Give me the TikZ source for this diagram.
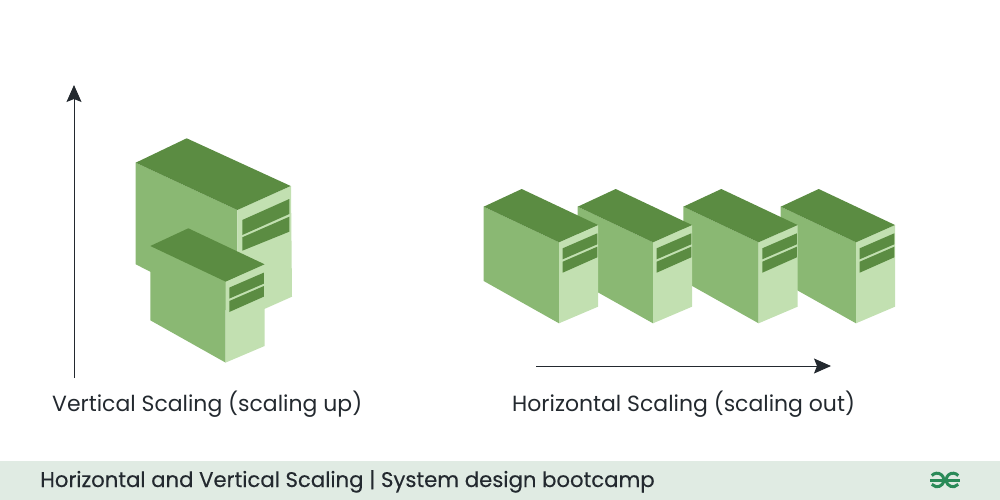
\documentclass[tikz,border=0pt]{standalone}
\usepackage{fontspec}
\setmainfont{Poppins}
\newfontfamily\barfont[FakeBold=0.25]{Poppins}
\usetikzlibrary{arrows.meta}
\definecolor{servertop}{HTML}{5B8C42}
\definecolor{serverleft}{HTML}{8AB873}
\definecolor{serverright}{HTML}{C2E0B1}
\definecolor{barfill}{HTML}{E0EBE3}
\definecolor{inkdark}{HTML}{23292F}
\definecolor{logogreen}{HTML}{2A8A58}
\tikzstyle{topface} =[fill=servertop]
\tikzstyle{leftface} =[fill=serverleft]
\tikzstyle{rightface} =[fill=serverright]
\tikzstyle{scalearrow} =[draw=inkdark, line width=1pt, -{Stealth[length=17pt,width=15pt,inset=3pt]}]
\tikzstyle{caption} =[text=inkdark, font=\fontsize{21.95}{26}\selectfont, anchor=base west, inner sep=0pt]
\tikzstyle{bartitle} =[text=inkdark, font=\barfont\fontsize{21.2}{25}\selectfont, anchor=base west, inner sep=0pt]
\tikzstyle{logoline} =[draw=logogreen, line width=3pt]
\newcommand{\serverbox}[2]{%
	\begin{scope}[shift={(#1,#2)}]
		\fill[leftface] (483.7,206.7) -- (559,242.3) -- (559,323.3) -- (483.7,281) -- cycle;
		\fill[rightface] (559,242.3) -- (598,225) -- (598,306.7) -- (559,323.3) -- cycle;
		\fill[topface] (483.7,206.7) -- (521.7,189) -- (598,225) -- (559,242.3) -- cycle;
		\fill[topface] (562.7,248.3) -- (597.3,233.3) -- (597.3,244.3) -- (562.7,259.3) -- cycle;
		\fill[topface] (562.7,261.7) -- (597.3,246.7) -- (597.3,257.3) -- (562.7,272.7) -- cycle;
	\end{scope}
}
\begin{document}
\begin{tikzpicture}[x=1pt,y=-1pt]
	\useasboundingbox (0,0) rectangle (1000,500);
	% big server
	\fill[leftface] (135.7,162.7) -- (237.3,210) -- (237.3,316) -- (135.7,264.3) -- cycle;
	\fill[rightface] (237.3,210) -- (291,186) -- (292,296.7) -- (237.3,321) -- cycle;
	\fill[topface] (135.7,162.7) -- (186.7,138.3) -- (290.7,186) -- (237.3,210) -- cycle;
	\fill[topface] (242.3,220) -- (289.3,199) -- (289.3,214) -- (242.3,235) -- cycle;
	\fill[topface] (242.3,237.3) -- (289.3,216.7) -- (289.3,231.7) -- (242.3,250.7) -- cycle;
	% small ones
	\serverbox{-333.4}{39.3}
	\serverbox{297}{0}
	\serverbox{199.6}{0}
	\serverbox{94}{0}
	\serverbox{0}{0}
	% arrows
	\coordinate (upstart) at (74,378);
	\coordinate (upend) at (74,85);
	\coordinate (outstart) at (536,366);
	\coordinate (outend) at (831,366);
	\draw[scalearrow] (upstart) -- (upend);
	\draw[scalearrow] (outstart) -- (outend);
	\node[caption] (vertical) at (52,411) {Vertical Scaling (scaling up)};
	\node[caption] (horizontal) at (512,411) {Horizontal Scaling (scaling out)};
	% bottom bar
	\fill[barfill] (0,461) rectangle (1000,500);
	\node[bartitle] (title) at (40,487) {Horizontal and Vertical Scaling | System design bootcamp};
	\draw[logoline] (930,480) -- (960,480);
	\draw[logoline] (931.8,475.6) arc[start angle=-140, end angle=140, radius=6.8];
	\draw[logoline] (958.2,475.6) arc[start angle=-40, end angle=-320, radius=6.8];
\end{tikzpicture}
\end{document}
